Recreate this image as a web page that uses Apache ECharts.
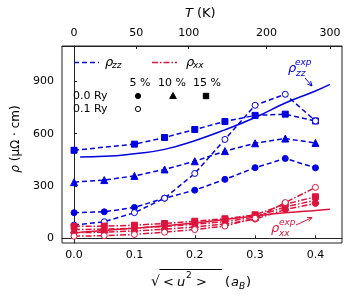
<!DOCTYPE html>
<html><head><meta charset="utf-8">
<script src="https://cdn.jsdelivr.net/npm/echarts@6/dist/echarts.min.js"></script>
<style>html,body{margin:0;padding:0;background:#fff}#c{width:350px;height:300px}</style>
</head><body><div id="c"></div>
<script>
// ---- data ----
const uGrid = [0, 0.05, 0.1, 0.15, 0.2, 0.25, 0.3, 0.35, 0.4];
const uSquare = [0, 0.1, 0.15, 0.2, 0.25, 0.3, 0.35, 0.4];
const zzSquare = [505, 540, 578, 624, 670, 705, 712, 673];
const zzTriangle = [322, 334, 358, 395, 442, 500, 545, 572, 547];
const zzCircle = [147, 152, 177, 230, 276, 338, 405, 458, 404];
const zzOpen = [76, 95, 147, 230, 372, 567, 763, 826, 673];
const xxSquare = [68, 70, 75, 85, 98, 112, 135, 195, 238];
const xxTriangle = [50, 52, 58, 68, 80, 95, 122, 180, 218];
const xxCircle = [32, 35, 42, 52, 65, 82, 110, 165, 200];
const xxOpen = [12, 15, 22, 35, 50, 70, 115, 205, 292];
const uExp = [0.01, 0.05, 0.1, 0.15, 0.2, 0.25, 0.3, 0.35, 0.4, 0.424];
const zzExp = [467, 470, 485, 510, 560, 622, 693, 776, 845, 883];
const xxExp = [35, 45, 58, 72, 88, 108, 128, 146, 160, 166];
const xTicks = [0, 0.1, 0.2, 0.3, 0.4];
const yTicks = [0, 300, 600, 900];
const tLabels = ['0', '50', '100', '200', '300'];
const tPos = [0, 0.103, 0.190, 0.319, 0.424];

const BLUE = '#0000e0', RED = '#dc143c', FONT = 'DejaVu Sans';
const pair = (xs, ys) => ys.map((v, i) => [xs[i], v]);

function ser(xs, ys, color, symbol, size, dash, extra) {
  return Object.assign({
    type: 'line', data: pair(xs, ys), symbol: symbol, symbolSize: size,
    showSymbol: symbol !== 'none', smooth: false, silent: true, animation: false,
    lineStyle: { color: color, width: 1.5, type: dash },
    itemStyle: { color: color, borderColor: color, borderWidth: 1 },
    emphasis: { disabled: true }
  }, extra || {});
}
const DASH = [5, 3], DASHDOT = [6, 2, 1.5, 2];
const openStyle = c => ({ itemStyle: { color: '#fff', borderColor: c, borderWidth: 1 } });

function txt(x, y, s, o) {
  o = o || {};
  const st = { text: s, fill: o.color || '#000', font: (o.italic ? 'italic ' : '') + (o.size || 11) + 'px "' + FONT + '"',
      textAlign: o.align || 'left', textVerticalAlign: o.va || 'middle' };
  if (o.rich) st.rich = o.rich;
  return { type: 'text', x: x, y: y, silent: true, z: 100, rotation: o.rot || 0, style: st };
}
function line(x1, y1, x2, y2, color, dash, w) {
  return { type: 'line', silent: true, z: 100, shape: { x1, y1, x2, y2 },
    style: { stroke: color, lineWidth: w || 1.5, lineDash: dash || null } };
}
function arrow(x1, y1, x2, y2, color) {
  const a = Math.atan2(y2 - y1, x2 - x1), L = 5, s = 0.45;
  return [line(x1, y1, x2, y2, color, null, 1),
    { type: 'polyline', silent: true, z: 100, shape: { points: [
      [x2 - L * Math.cos(a - s), y2 - L * Math.sin(a - s)], [x2, y2],
      [x2 - L * Math.cos(a + s), y2 - L * Math.sin(a + s)]] },
      style: { stroke: color, lineWidth: 1, fill: null } }];
}
function mark(type, x, y, filled) {
  const st = { fill: filled ? '#000' : '#fff', stroke: '#000', lineWidth: 1 };
  if (type === 'circle') return { type: 'circle', silent: true, z: 100, shape: { cx: x, cy: y, r: 2.6 }, style: st };
  if (type === 'rect') return { type: 'rect', silent: true, z: 100, shape: { x: x - 2.7, y: y - 2.7, width: 5.4, height: 5.4 }, style: st };
  return { type: 'polygon', silent: true, z: 100, shape: { points: [[x, y - 3.5], [x + 3.3, y + 2.5], [x - 3.3, y + 2.5]] }, style: st };
}

const graphics = [
  // top title
  txt(185, 14, 'T', { italic: true, size: 13 }), txt(197, 14, '(K)', { size: 13 }),
  // y title
  txt(16, 139, '{i|ρ} (μΩ · cm)', { rot: Math.PI / 2, align: 'center', size: 12,
    rich: { i: { fontStyle: 'italic', fontFamily: FONT, fontSize: 12 } } }),
  // x title
  txt(151, 282, '√', { size: 14 }),
  line(159.5, 269.5, 222, 269.5, '#000', null, 1),
  txt(163, 283, '<', { size: 13 }), txt(177, 283, 'u', { italic: true, size: 13 }),
  txt(186, 276, '2', { size: 9 }), txt(196, 283, '>', { size: 13 }),
  txt(225, 283, '(', { size: 13 }), txt(231, 283, 'a', { italic: true, size: 13 }),
  txt(239, 287, 'B', { italic: true, size: 9 }), txt(246, 283, ')', { size: 13 }),
  // legend
  line(74, 62.5, 99, 62.5, BLUE, DASH), txt(105, 63, 'ρ', { italic: true, size: 13 }),
  txt(112, 66, 'zz', { italic: true, size: 9 }),
  line(152, 62.5, 177, 62.5, RED, DASHDOT), txt(186, 63, 'ρ', { italic: true, size: 13 }),
  txt(193, 66, 'xx', { italic: true, size: 9 }),
  txt(140, 83, '5 %', { align: 'center' }), txt(172, 83, '10 %', { align: 'center' }), txt(207, 83, '15 %', { align: 'center' }),
  txt(73, 96, '0.0 Ry'), txt(73, 109, '0.1 Ry'),
  mark('circle', 138, 96, true), mark('tri', 173, 96, true), mark('rect', 206, 96, true), mark('circle', 138, 109, false),
  // annotations
  txt(288, 69, 'ρ', { italic: true, size: 13, color: BLUE }), txt(295, 63, 'exp', { italic: true, size: 9, color: BLUE }),
  txt(296, 74, 'zz', { italic: true, size: 9, color: BLUE }),
  ...arrow(305, 78, 312, 86, BLUE),
  txt(271, 229, 'ρ', { italic: true, size: 13, color: RED }), txt(279, 223, 'exp', { italic: true, size: 9, color: RED }),
  txt(279, 234, 'xx', { italic: true, size: 9, color: RED }),
  ...arrow(296, 225, 312, 217.5, RED)
];

const chart = echarts.init(document.getElementById('c'), null, { renderer: 'canvas' });
const axisCommon = {
  axisLine: { show: true, lineStyle: { color: '#222', width: 1 } },
  axisTick: { show: true, inside: true, length: 3, lineStyle: { color: '#222' } },
  splitLine: { show: false },
  axisLabel: { fontFamily: FONT, fontSize: 11, color: '#000' }
};
chart.setOption({
  animation: false,
  grid: { left: 62, right: 8, top: 46, bottom: 57, show: true, borderColor: '#222', borderWidth: 1, backgroundColor: 'transparent' },
  xAxis: [
    Object.assign({}, axisCommon, { type: 'value', position: 'bottom', min: -0.02, max: 0.444,
      axisTick: Object.assign({}, axisCommon.axisTick, { customValues: xTicks }),
      axisLabel: Object.assign({}, axisCommon.axisLabel, { customValues: xTicks, margin: 7, formatter: v => v.toFixed(1) }) }),
    Object.assign({}, axisCommon, { type: 'value', position: 'top', min: -0.02, max: 0.444,
      axisTick: Object.assign({}, axisCommon.axisTick, { customValues: tPos }),
      axisLabel: Object.assign({}, axisCommon.axisLabel, { customValues: tPos, margin: 7,
        formatter: v => { const i = tPos.findIndex(p => Math.abs(p - v) < 1e-6); return i >= 0 ? tLabels[i] : ''; } }) })
  ],
  yAxis: Object.assign({}, axisCommon, { type: 'value', min: -27, max: 1103,
    axisTick: Object.assign({}, axisCommon.axisTick, { customValues: yTicks }),
    axisLabel: Object.assign({}, axisCommon.axisLabel, { customValues: yTicks, margin: 8 }) }),
  series: [
    ser(uExp, zzExp, BLUE, 'none', 0, 'solid', { smooth: true }),
    ser(uSquare, zzSquare, BLUE, 'rect', 6, DASH),
    ser(uGrid, zzTriangle, BLUE, 'triangle', 7, DASH),
    ser(uGrid, zzCircle, BLUE, 'circle', 6, DASH),
    ser(uGrid, zzOpen, BLUE, 'circle', 6, DASH, openStyle(BLUE)),
    ser(uExp, xxExp, RED, 'none', 0, 'solid', { smooth: true }),
    ser(uGrid, xxSquare, RED, 'rect', 6, DASHDOT),
    ser(uGrid, xxTriangle, RED, 'triangle', 7, DASHDOT),
    ser(uGrid, xxCircle, RED, 'circle', 6, DASHDOT),
    ser(uGrid, xxOpen, RED, 'circle', 6, DASHDOT, openStyle(RED))
  ],
  graphic: graphics
});
</script></body></html>
